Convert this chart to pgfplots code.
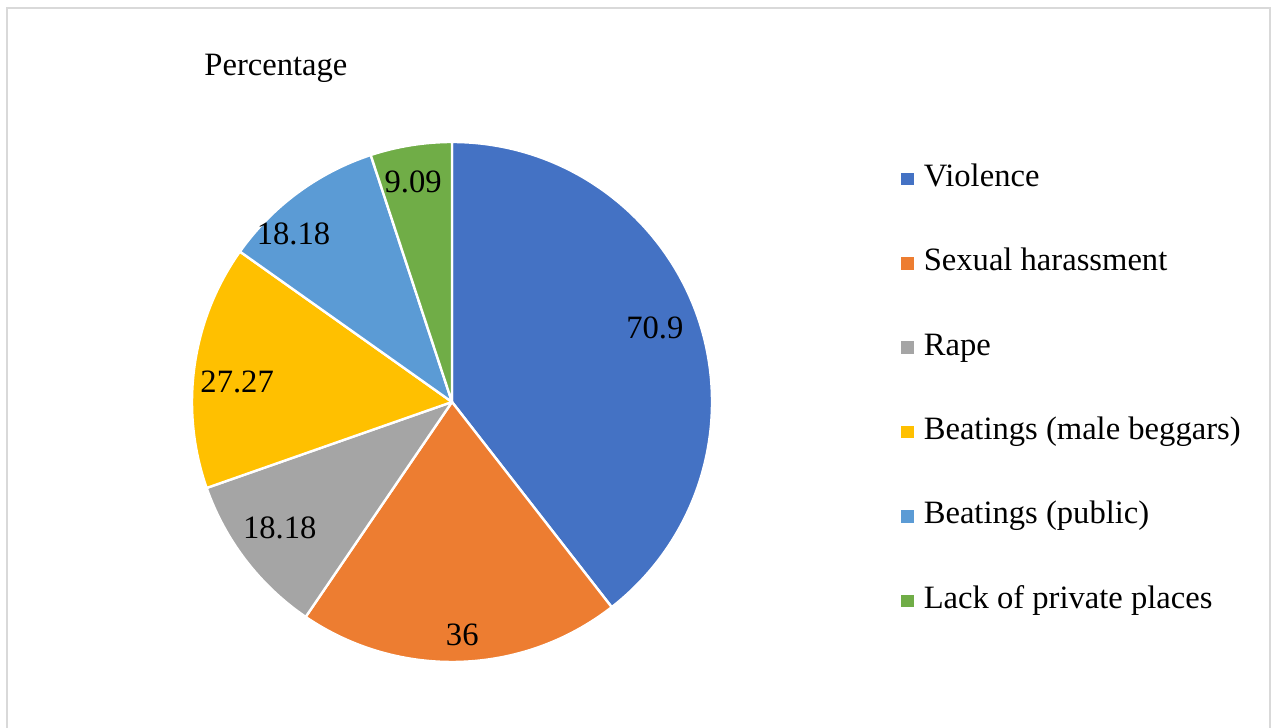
\documentclass[border=0pt]{standalone}
\usepackage{pgfplots}
\pgfplotsset{compat=1.18}
\usepackage{pgfplotstable}
\usepackage{fontspec}
\setmainfont{Liberation Serif}
\definecolor{c0}{HTML}{4472C4}
\definecolor{c1}{HTML}{ED7D31}
\definecolor{c2}{HTML}{A5A5A5}
\definecolor{c3}{HTML}{FFC000}
\definecolor{c4}{HTML}{5B9BD5}
\definecolor{c5}{HTML}{70AD47}
\definecolor{frame}{HTML}{D9D9D9}
\pgfplotsset{sq/.style={legend image code/.code={\fill[#1] (0pt,-2.9pt) rectangle (5.8pt,2.9pt);}}}
% value, label radius factor, label angle offset
\pgfplotstableread[col sep=comma]{
value,lr,da
70.9,0.83,1
36,0.897,0.7
18.18,0.82,-1.4
27.27,0.83,2.7
18.18,0.89,6.8
9.09,0.86,0.9
}\piedata
\begin{document}
\begin{tikzpicture}
\pgfplotstablegetrowsof{\piedata}\pgfmathtruncatemacro\nrows{\pgfplotsretval-1}
\gdef\pietot{0}
\foreach \i in {0,...,\nrows}{%
  \pgfplotstablegetelem{\i}{value}\of\piedata
  \pgfmathsetmacro\piesum{\pietot+\pgfplotsretval}%
  \global\let\pietot\piesum}
\pgfmathsetmacro\piescale{360/\pietot}
\gdef\piecum{0}
\foreach \i in {0,...,\nrows}{%
  \pgfplotstablegetelem{\i}{value}\of\piedata
  \expandafter\xdef\csname pieVAL\i\endcsname{\pgfplotsretval}%
  \pgfmathsetmacro\pieA{90-\piescale*\piecum}%
  \pgfmathsetmacro\pieN{\piecum+\pgfplotsretval}%
  \pgfmathsetmacro\pieB{90-\piescale*\pieN}%
  \global\let\piecum\pieN
  \expandafter\xdef\csname pieSA\i\endcsname{\pieA}%
  \expandafter\xdef\csname pieEA\i\endcsname{\pieB}%
  \pgfplotstablegetelem{\i}{lr}\of\piedata
  \expandafter\xdef\csname pieLR\i\endcsname{\pgfplotsretval}%
  \pgfplotstablegetelem{\i}{da}\of\piedata
  \expandafter\xdef\csname pieDA\i\endcsname{\pgfplotsretval}%
}
\path[use as bounding box] (0pt,0pt) rectangle (635.5pt,364pt);
\begin{axis}[at={(0pt,0pt)}, anchor=south west, scale only axis,
  width=635.5pt, height=364pt,
  xmin=0, xmax=1271, ymin=0, ymax=728, hide axis, clip=false,
  legend style={at={(axis cs:901,564)}, anchor=north west, draw=none, fill=none,
    inner sep=0pt, row sep=27.7pt, column sep=5pt,
    font=\fontsize{16.3}{19}\selectfont,
    nodes={inner sep=0pt, text height=11pt, text depth=3.5pt}},
  legend cell align=left]
\draw[frame, line width=0.8pt] (axis cs:7,0) -- (axis cs:7,720) -- (axis cs:1270,720) -- (axis cs:1270,0);
\node[anchor=base west, inner sep=0pt, font=\fontsize{16.3}{19}\selectfont] at (axis cs:204,652) {Percentage};
\pgfplotsinvokeforeach{0,...,5}{
  \fill[fill=c#1, draw=white, line width=1.2pt, line join=round]
    (axis cs:452,326) -- (axis cs:{452+260*cos(\csname pieSA#1\endcsname)},{326+260*sin(\csname pieSA#1\endcsname)})
    arc[start angle=\csname pieSA#1\endcsname, end angle=\csname pieEA#1\endcsname, radius=130pt] -- cycle;
}
\pgfplotsinvokeforeach{0,...,5}{
  \node[font=\fontsize{16.3}{19}\selectfont, inner sep=0pt] at
    (axis cs:{452+260*\csname pieLR#1\endcsname*cos((\csname pieSA#1\endcsname+\csname pieEA#1\endcsname)/2+\csname pieDA#1\endcsname)},
             {326+260*\csname pieLR#1\endcsname*sin((\csname pieSA#1\endcsname+\csname pieEA#1\endcsname)/2+\csname pieDA#1\endcsname)})
    {\csname pieVAL#1\endcsname};
}
\addlegendimage{sq=c0}
\addlegendimage{sq=c1}
\addlegendimage{sq=c2}
\addlegendimage{sq=c3}
\addlegendimage{sq=c4}
\addlegendimage{sq=c5}
\legend{Violence, Sexual harassment, Rape, Beatings (male beggars), Beatings (public), Lack of private places}
\end{axis}
\end{tikzpicture}
\end{document}
